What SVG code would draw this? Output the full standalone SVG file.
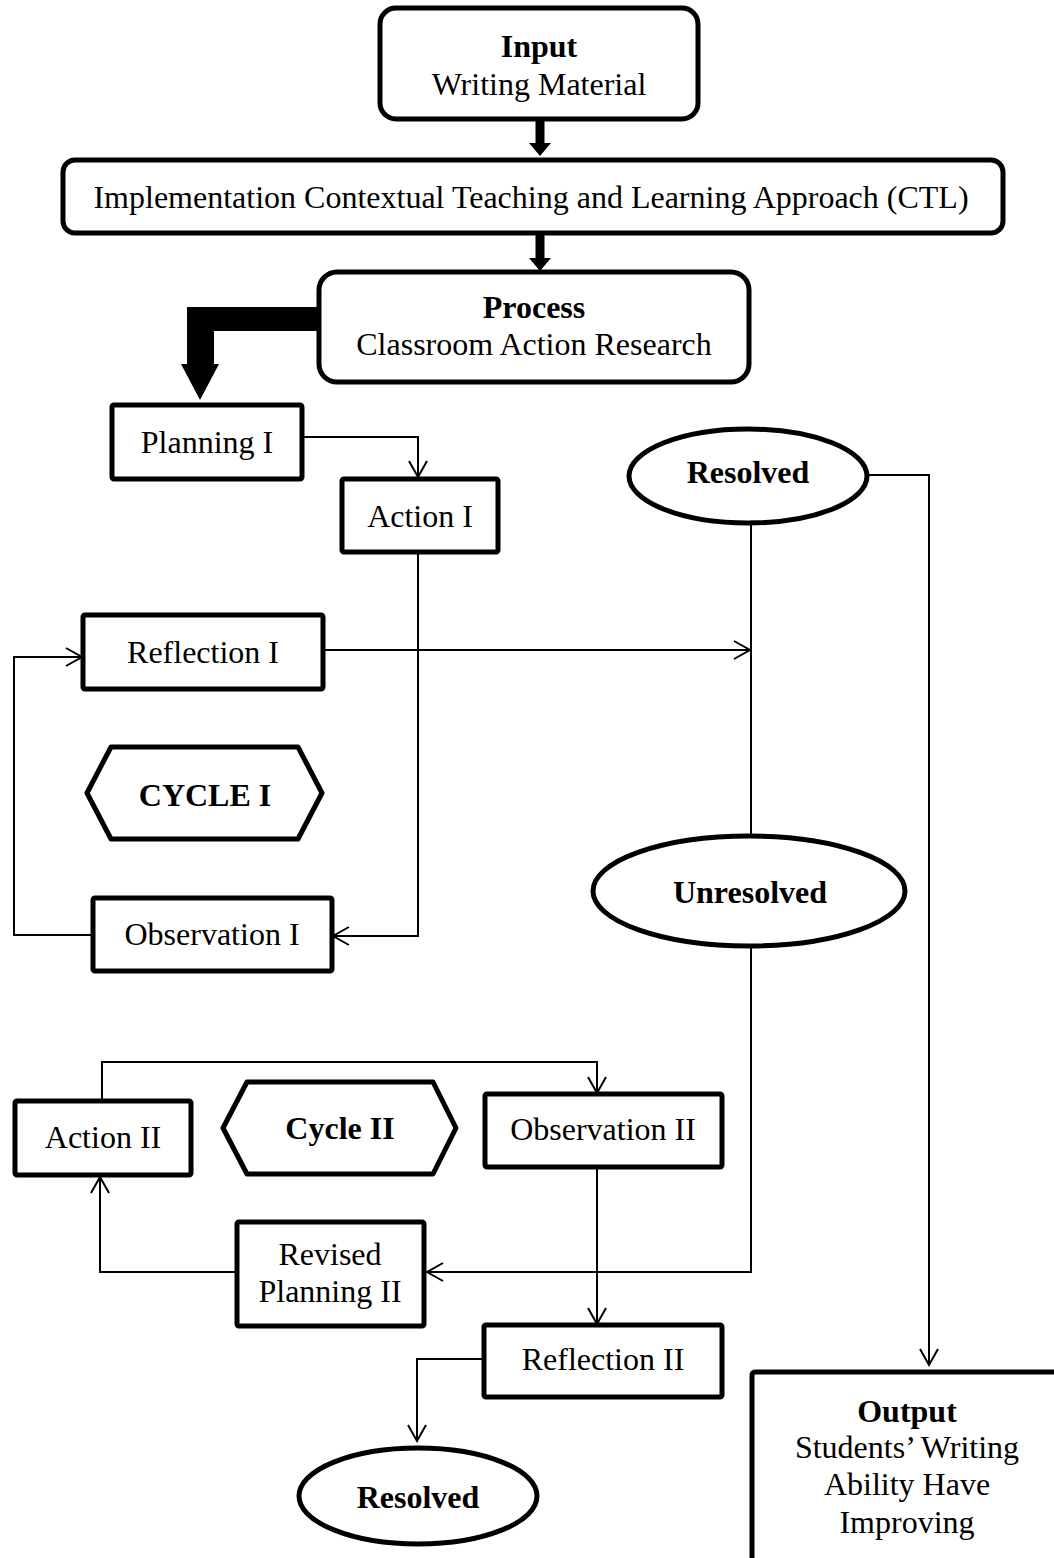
<svg xmlns="http://www.w3.org/2000/svg" width="1054" height="1558" viewBox="0 0 1054 1558">
<defs>
<style>
.box{fill:#fff;stroke:#000;stroke-width:5;stroke-linejoin:round}
.t{font-family:"Liberation Serif","Times New Roman",serif;font-size:32px;fill:#000;text-anchor:middle}
.b{font-weight:bold}
.c{fill:none;stroke:#000;stroke-width:2}
.thick{fill:#000;stroke:none}
</style>
<marker id="arr" markerUnits="userSpaceOnUse" markerWidth="20" markerHeight="22" refX="17" refY="10" orient="auto">
<path d="M1,1 L17,10 L1,19" fill="none" stroke="#000" stroke-width="2"/>
</marker>
</defs>
<rect width="1054" height="1558" fill="#fff"/>

<g id="connectors">
<path class="thick" d="M535.5,119 H544.5 V143 H551 L540,156 L529,143 H535.5 Z"/>
<path class="thick" d="M535.5,233 H544.5 V258 H551 L540,271 L529,258 H535.5 Z"/>
<path class="thick" d="M319,307 H187 V364 H181 L200,400 L219,364 H214 V331 H319 Z"/>
<path class="c" d="M302,437 H418 V477" marker-end="url(#arr)"/>
<path class="c" d="M418,552 V936 H333" marker-end="url(#arr)"/>
<path class="c" d="M323,650 H750" marker-end="url(#arr)"/>
<path class="c" d="M93,935 H14 V657 H82" marker-end="url(#arr)"/>
<path class="c" d="M751,523 V836"/>
<path class="c" d="M867,475 H929 V1365" marker-end="url(#arr)"/>
<path class="c" d="M751,946 V1272 H427" marker-end="url(#arr)"/>
<path class="c" d="M102,1101 V1062 H597 V1093" marker-end="url(#arr)"/>
<path class="c" d="M597,1167 V1324" marker-end="url(#arr)"/>
<path class="c" d="M237,1272 H100 V1177" marker-end="url(#arr)"/>
<path class="c" d="M484,1359 H417 V1441" marker-end="url(#arr)"/>
</g>

<g id="input">
<rect class="box" x="380" y="8" width="318" height="111" rx="16"/>
<text class="t b" x="539" y="57">Input</text>
<text class="t" x="539" y="95">Writing Material</text>
</g>

<g id="ctl">
<rect class="box" x="63" y="160" width="940" height="73" rx="12"/>
<text class="t" x="531" y="208">Implementation Contextual Teaching and Learning Approach (CTL)</text>
</g>

<g id="process">
<rect class="box" x="319" y="272" width="430" height="110" rx="18"/>
<text class="t b" x="534" y="318">Process</text>
<text class="t" x="534" y="355">Classroom Action Research</text>
</g>

<g id="planning1">
<rect class="box" x="112" y="405" width="190" height="74" rx="2"/>
<text class="t" x="207" y="453">Planning I</text>
</g>

<g id="action1">
<rect class="box" x="342" y="479" width="156" height="73" rx="2"/>
<text class="t" x="420" y="527">Action I</text>
</g>

<g id="reflection1">
<rect class="box" x="83" y="615" width="240" height="74" rx="2"/>
<text class="t" x="203" y="663">Reflection I</text>
</g>

<g id="cycle1">
<polygon class="box" points="87,793 111,747 298,747 322,793 298,839 111,839"/>
<text class="t b" x="205" y="806">CYCLE I</text>
</g>

<g id="observation1">
<rect class="box" x="93" y="898" width="239" height="73" rx="2"/>
<text class="t" x="212" y="945">Observation I</text>
</g>

<g id="resolved1">
<ellipse class="box" cx="748" cy="476" rx="119" ry="47"/>
<text class="t b" x="748" y="483">Resolved</text>
</g>

<g id="unresolved">
<ellipse class="box" cx="749" cy="891" rx="156" ry="55"/>
<text class="t b" x="750" y="903">Unresolved</text>
</g>

<g id="action2">
<rect class="box" x="15" y="1101" width="176" height="74" rx="2"/>
<text class="t" x="103" y="1148">Action II</text>
</g>

<g id="cycle2">
<polygon class="box" points="223,1128 247,1082 433,1082 456,1128 433,1174 247,1174"/>
<text class="t b" x="340" y="1139">Cycle II</text>
</g>

<g id="observation2">
<rect class="box" x="485" y="1094" width="237" height="73" rx="2"/>
<text class="t" x="603" y="1140">Observation II</text>
</g>

<g id="revised2">
<rect class="box" x="237" y="1222" width="187" height="104" rx="2"/>
<text class="t" x="330" y="1265">Revised</text>
<text class="t" x="330" y="1302">Planning II</text>
</g>

<g id="reflection2">
<rect class="box" x="484" y="1325" width="238" height="72" rx="2"/>
<text class="t" x="603" y="1370">Reflection II</text>
</g>

<g id="resolved2">
<ellipse class="box" cx="418" cy="1496" rx="119" ry="48"/>
<text class="t b" x="418" y="1508">Resolved</text>
</g>

<g id="output">
<rect class="box" x="752" y="1372" width="330" height="220" rx="3"/>
<text class="t b" x="907" y="1422">Output</text>
<text class="t" x="907" y="1458">Students’ Writing</text>
<text class="t" x="907" y="1495">Ability Have</text>
<text class="t" x="907" y="1533">Improving</text>
</g>
</svg>
